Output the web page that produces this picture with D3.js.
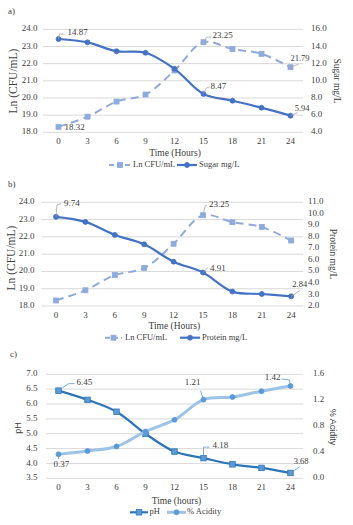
<!DOCTYPE html>
<html><head><meta charset="utf-8">
<script src="https://cdn.jsdelivr.net/npm/d3@7"></script>
<style>
body{margin:0;background:#fff;}
svg{display:block;}
text{font-family:"Liberation Serif","Times New Roman",serif;fill:#404040;}
</style></head>
<body>
<svg id="c" width="353" height="525"></svg>
<script>
// ---------- data ----------
const hours = [0, 3, 6, 9, 12, 15, 18, 21, 24];
const lnCFU = [18.32, 18.91, 19.79, 20.2, 21.6, 23.25, 22.85, 22.57, 21.79];
const sugar = [14.87, 14.48, 13.45, 13.27, 11.4, 8.47, 7.68, 6.87, 5.94];
const protein = [9.74, 9.3, 8.17, 7.35, 5.85, 4.91, 3.25, 3.04, 2.84];
const pH = [6.45, 6.14, 5.74, 5.0, 4.4, 4.18, 3.97, 3.85, 3.68];
const acidity = [0.37, 0.42, 0.49, 0.72, 0.9, 1.21, 1.25, 1.34, 1.42];

const lnTicks = [18, 19, 20, 21, 22, 23, 24];
const sugarTicks = [4, 6, 8, 10, 12, 14, 16];
const proteinTicks = [2, 3, 4, 5, 6, 7, 8, 9, 10, 11];
const pHTicks = [3.5, 4.0, 4.5, 5.0, 5.5, 6.0, 6.5, 7.0];
const acidityTicks = [0, 0.4, 0.8, 1.2, 1.6];

const C_LIGHT = "#8FAADC", C_MID = "#4472C4", C_PH = "#2E75B6", C_AC = "#9DC3E6", C_ACM = "#5B9BD5";

const svg = d3.select("#c");

function panel(cfg) {
  const g = svg.append("g");
  const x = d3.scalePoint().domain(hours).range(cfg.xr).padding(0.5);
  const yL = d3.scaleLinear().domain(cfg.lDom).range([cfg.bottom, cfg.top]);
  const yR = d3.scaleLinear().domain(cfg.rDom).range([cfg.bottom, cfg.top]);

  g.append("text").attr("x", cfg.tagX).attr("y", cfg.tagY).attr("font-size", 9)
    .attr("dominant-baseline", "middle").text(cfg.tag);

  // gridlines
  g.selectAll(".grid").data(cfg.lTicks).join("line")
    .attr("x1", cfg.gx[0]).attr("x2", cfg.gx[1])
    .attr("y1", d => yL(d)).attr("y2", d => yL(d))
    .attr("stroke", "#D9D9D9").attr("stroke-width", 1);

  // left ticks
  g.selectAll(".lt").data(cfg.lTicks).join("text")
    .attr("x", cfg.lLabX).attr("y", d => yL(d)).attr("text-anchor", "end")
    .attr("dominant-baseline", "middle").attr("font-size", 9)
    .text(d => d3.format(cfg.lFmt)(d));
  // right ticks
  g.selectAll(".rt").data(cfg.rTicks).join("text")
    .attr("x", cfg.rLabX).attr("y", d => yR(d)).attr("text-anchor", "start")
    .attr("dominant-baseline", "middle").attr("font-size", 9)
    .text(d => d3.format(cfg.rFmt)(d));
  // x ticks
  g.selectAll(".xt").data(hours).join("text")
    .attr("x", d => x(d)).attr("y", cfg.xLabY).attr("text-anchor", "middle")
    .attr("dominant-baseline", "middle").attr("font-size", 9).text(d => d);

  // titles
  g.append("text").attr("x", (cfg.gx[0] + cfg.gx[1]) / 2 + 2).attr("y", cfg.xTitleY)
    .attr("text-anchor", "middle").attr("dominant-baseline", "middle")
    .attr("font-size", 9.5).text(cfg.xTitle);
  g.append("text").attr("transform", `translate(${cfg.lTitleX},${cfg.lTitleY}) rotate(-90)`)
    .attr("text-anchor", "middle").attr("dominant-baseline", "middle")
    .attr("font-size", cfg.lTitleSize).style("font-family", cfg.titleFont || null)
    .text(cfg.lTitle);
  g.append("text").attr("transform", `translate(${cfg.rTitleX},${cfg.rTitleY}) rotate(90)`)
    .attr("text-anchor", "middle").attr("dominant-baseline", "middle")
    .attr("font-size", cfg.rTitleSize).style("font-family", cfg.titleFont || null)
    .text(cfg.rTitle);

  // series
  cfg.series.forEach(s => {
    const y = s.axis === "L" ? yL : yR;
    const line = d3.line().x((d, i) => x(hours[i])).y(d => y(d)).curve(d3.curveCatmullRom.alpha(0.5));
    g.append("path").datum(s.values).attr("d", line).attr("fill", "none")
      .attr("stroke", s.color).attr("stroke-width", s.width)
      .attr("stroke-dasharray", s.dash || null).attr("stroke-linecap", "butt");
    drawMarkers(g, s, s.values.map((v, i) => [x(hours[i]), y(v)]));
  });

  // data labels
  cfg.labels.forEach(l => {
    const s = cfg.series[l.s];
    const y = s.axis === "L" ? yL : yR;
    const px = x(hours[l.i]), py = y(s.values[l.i]);
    if (l.leader) {
      const pts = [[px, py]].concat(l.leader.map(p => [px + p[0], py + p[1]]));
      g.append("path").attr("d", d3.line()(pts)).attr("fill", "none")
        .attr("stroke", l.lc || "#A6A6A6").attr("stroke-width", 0.8);
    }
    g.append("text").attr("x", px + l.dx).attr("y", py + l.dy)
      .attr("dominant-baseline", "middle").attr("font-size", l.fs || 9)
      .attr("text-anchor", l.anchor || "start")
      .text(d3.format(".2f")(s.values[l.i]));
  });

  // legend
  cfg.legend.forEach((it, k) => {
    const s = cfg.series[k];
    const ly = cfg.legY;
    g.append("line").attr("x1", it[0]).attr("x2", it[1]).attr("y1", ly).attr("y2", ly)
      .attr("stroke", s.color).attr("stroke-width", s.width)
      .attr("stroke-dasharray", s.dash ? "5,3" : null);
    drawMarkers(g, s, [[(it[0] + it[1]) / 2, ly]]);
    g.append("text").attr("x", it[2]).attr("y", ly).attr("dominant-baseline", "middle")
      .attr("font-size", 8.5).text(s.name);
  });
}

function drawMarkers(g, s, pts) {
  if (s.marker === "square") {
    g.selectAll(null).data(pts).join("rect")
      .attr("x", d => d[0] - s.ms / 2).attr("y", d => d[1] - s.ms / 2)
      .attr("width", s.ms).attr("height", s.ms)
      .attr("fill", s.mfill || s.color).attr("stroke", s.mstroke || s.color).attr("stroke-width", 0.8);
  } else {
    g.selectAll(null).data(pts).join("circle")
      .attr("cx", d => d[0]).attr("cy", d => d[1]).attr("r", s.ms / 2)
      .attr("fill", s.mfill || s.color).attr("stroke", s.mstroke || s.color).attr("stroke-width", 0.8);
  }
}

const lnSeries = { name: "Ln CFU/mL", values: lnCFU, axis: "L", color: C_LIGHT, width: 2, dash: "8,5", marker: "square", ms: 5 };

// ---------- panel a ----------
panel({
  tag: "a)", tagX: 8, tagY: 12,
  top: 29.3, bottom: 132.3, xr: [44, 305], gx: [43, 303],
  lDom: [18, 24], rDom: [4, 16], lTicks: lnTicks, rTicks: sugarTicks, lFmt: ".1f", rFmt: ".1f",
  lLabX: 37.5, rLabX: 311, xLabY: 141.5, xTitleY: 154, xTitle: "Time (Hours)",
  lTitle: "Ln (CFU/mL)", lTitleX: 14, lTitleY: 81, lTitleSize: 11.5,
  rTitle: "Sugar mg/L", rTitleX: 336, rTitleY: 81, rTitleSize: 9.5,
  series: [lnSeries,
    { name: "Sugar mg/L", values: sugar, axis: "R", color: C_MID, width: 2.2, marker: "circle", ms: 5 }],
  labels: [
    { s: 1, i: 0, dx: 9, dy: -6, leader: [[1, -5], [6, -5]] },
    { s: 0, i: 0, dx: 6, dy: 1 },
    { s: 0, i: 5, dx: 9, dy: -6, leader: [[3, -5], [8, -5]] },
    { s: 0, i: 8, dx: 19, dy: -8, anchor: "end", fs: 8.5, leader: [[8, -3]] },
    { s: 1, i: 5, dx: 7, dy: -7, leader: [[3, -6], [6, -7]] },
    { s: 1, i: 8, dx: 19, dy: -7, anchor: "end", fs: 8.5, leader: [[7, -3]] }
  ],
  legY: 165, legend: [[109, 131, 133], [177, 197, 199]]
});

// ---------- panel b ----------
panel({
  tag: "b)", tagX: 8, tagY: 185,
  top: 202.3, bottom: 306, xr: [41.3, 305.9], gx: [41.5, 303],
  lDom: [18, 24], rDom: [2, 11], lTicks: lnTicks, rTicks: proteinTicks, lFmt: ".1f", rFmt: ".1f",
  lLabX: 34.5, rLabX: 308, xLabY: 315.7, xTitleY: 326.7, xTitle: "Time (Hours)",
  lTitle: "Ln (CFU/mL)", lTitleX: 12, lTitleY: 258, lTitleSize: 11.5,
  rTitle: "Protein mg/L", rTitleX: 332, rTitleY: 254, rTitleSize: 9.5,
  series: [lnSeries,
    { name: "Protein mg/L", values: protein, axis: "R", color: C_MID, width: 2.2, marker: "circle", ms: 5 }],
  labels: [
    { s: 1, i: 0, dx: 8, dy: -13, leader: [[1, -12], [5, -13]] },
    { s: 0, i: 5, dx: 6, dy: -10, leader: [[2, -9], [4, -10]] },
    { s: 1, i: 5, dx: 7, dy: -4, leader: [[5, -5]] },
    { s: 1, i: 8, dx: 16, dy: -11, anchor: "end", fs: 8.5, leader: [[9, -6]] }
  ],
  legY: 337.7, legend: [[105, 122, 125], [180, 200, 202]]
});

// ---------- panel c ----------
panel({
  tag: "c)", tagX: 10, tagY: 355,
  top: 374.3, bottom: 478.3, xr: [44, 305], gx: [46, 303],
  lDom: [3.5, 7.0], rDom: [0, 1.6], lTicks: pHTicks, rTicks: acidityTicks, lFmt: ".1f", rFmt: ".1f",
  lLabX: 37.5, rLabX: 313, xLabY: 487.7, xTitleY: 501.7, xTitle: "Time (hours)",
  lTitle: "pH", lTitleX: 19, lTitleY: 428, lTitleSize: 9,
  rTitle: "% Acidity", rTitleX: 332, rTitleY: 427, rTitleSize: 9,
  titleFont: "'Liberation Sans', Arial, sans-serif",
  series: [
    { name: "pH", values: pH, axis: "L", color: C_PH, width: 2.2, marker: "square", ms: 5.5, mfill: C_ACM, mstroke: C_PH },
    { name: "% Acidity", values: acidity, axis: "R", color: C_AC, width: 3, marker: "circle", ms: 5, mfill: C_ACM, mstroke: C_ACM }],
  labels: [
    { s: 0, i: 0, dx: 18, dy: -8, leader: [[10, -7], [16, -7]], lc: C_ACM },
    { s: 1, i: 0, dx: -5, dy: 11, leader: [[0, 5]], lc: C_ACM },
    { s: 1, i: 5, dx: -3, dy: -17, anchor: "end", leader: [[-3, -9]], lc: C_ACM },
    { s: 1, i: 8, dx: -10, dy: -8, anchor: "end", leader: [[-1, -6], [-9, -7]], lc: C_ACM },
    { s: 0, i: 5, dx: 9, dy: -12, leader: [[0, -11], [6, -11]], lc: C_ACM },
    { s: 0, i: 8, dx: 18, dy: -11, anchor: "end", fs: 8.5, leader: [[9, -6]], lc: C_ACM }
  ],
  legY: 512.3, legend: [[130, 148, 149.5], [167, 186, 187]]
});
</script>
</body></html>
